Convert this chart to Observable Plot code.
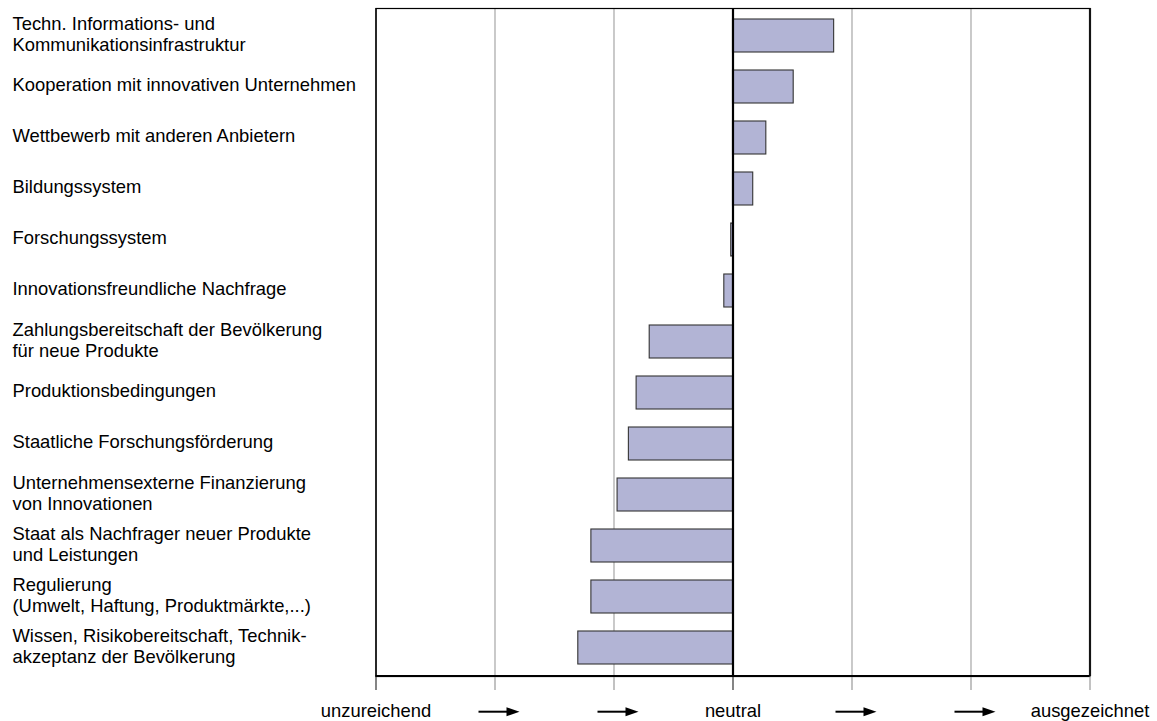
<!DOCTYPE html>
<html>
<head>
<meta charset="utf-8">
<script src="https://cdn.jsdelivr.net/npm/d3@7"></script>
<script src="https://cdn.jsdelivr.net/npm/@observablehq/plot@0.6"></script>
<style>
  html, body { margin: 0; padding: 0; background: #fff; }
  #chart svg { display: block; }
</style>
</head>
<body>
<div id="chart"></div>
<script>
const categories = [
  "Techn. Informations- und\nKommunikationsinfrastruktur",
  "Kooperation mit innovativen Unternehmen",
  "Wettbewerb mit anderen Anbietern",
  "Bildungssystem",
  "Forschungssystem",
  "Innovationsfreundliche Nachfrage",
  "Zahlungsbereitschaft der Bevölkerung\nfür neue Produkte",
  "Produktionsbedingungen",
  "Staatliche Forschungsförderung",
  "Unternehmensexterne Finanzierung\nvon Innovationen",
  "Staat als Nachfrager neuer Produkte\nund Leistungen",
  "Regulierung\n(Umwelt, Haftung, Produktmärkte,...)",
  "Wissen, Risikobereitschaft, Technik-\nakzeptanz der Bevölkerung"
];
const values = [0.85, 0.51, 0.28, 0.17, -0.015, -0.073, -0.70, -0.81, -0.875, -0.97, -1.19, -1.19, -1.30];
const tickValues = [-3, -2, -1, 0, 1, 2, 3];
const tickLabels = ["unzureichend", "→", "→", "neutral", "→", "→", "ausgezeichnet"];

const data = categories.map((c, i) => ({category: c, value: values[i]}));
const labelTicks = tickValues.filter((v, i) => tickLabels[i] !== "→");
const arrowTicks = tickValues.filter((v, i) => tickLabels[i] === "→");
const labelOf = v => tickLabels[tickValues.indexOf(v)];

const W = 1157, H = 721;
const mL = 375.5, mR = 67.5, mT = 8, mB = 45;
const FS = 18.4;

const arrows = (index, scales, values, dimensions) => {
  const g = d3.create("svg:g");
  const base = dimensions.height - dimensions.marginBottom;
  // bottom axis line
  g.append("line")
    .attr("x1", dimensions.marginLeft).attr("x2", dimensions.width - dimensions.marginRight)
    .attr("y1", base).attr("y2", base)
    .attr("stroke", "#000").attr("stroke-width", 2);
  const y = base + 35.7;
  for (const v of arrowTicks) {
    const cx = scales.x(v) + 4;
    g.append("line")
      .attr("x1", cx - 20).attr("x2", cx + 10)
      .attr("y1", y).attr("y2", y)
      .attr("stroke", "#000").attr("stroke-width", 2);
    g.append("path")
      .attr("d", `M${cx + 8},${y - 4.5}L${cx + 21},${y}L${cx + 8},${y + 4.5}Z`)
      .attr("fill", "#000");
  }
  return g.node();
};

const chart = Plot.plot({
  width: W,
  height: H,
  marginLeft: mL,
  marginRight: mR,
  marginTop: mT,
  marginBottom: mB,
  style: {fontFamily: "'Liberation Sans', Arial, sans-serif", fontSize: FS + "px", color: "#000", background: "#fff"},
  x: {domain: [-3, 3], axis: null, label: null},
  y: {domain: categories, paddingInner: 0.35, paddingOuter: 0.175, axis: null, label: null},
  marks: [
    Plot.ruleX([-2, -1, 1, 2], {stroke: "#a6a6a6", strokeWidth: 1.2}),
    Plot.ruleX([3], {stroke: "#333", strokeWidth: 2.2}),
    Plot.ruleX([-3], {stroke: "#000", strokeWidth: 1.2}),
    Plot.frame({stroke: "#000", strokeWidth: 1.2, fill: "none"}),
    Plot.barX(data, {x: "value", y: "category", fill: "#b2b4d5", stroke: "#333", strokeWidth: 1.1}),
    Plot.ruleX([0], {stroke: "#000", strokeWidth: 2.2}),
    Plot.text(categories, {y: d => d, frameAnchor: "left", textAnchor: "start", dx: 12 - mL, dy: -2.5, lineHeight: 1.16, fill: "#000", fontSize: FS}),
    Plot.axisX({ticks: [-2, -1, 1, 2, 3], tickSize: 14, stroke: "#999", tickFormat: () => "", strokeWidth: 1.2, label: null}),
    Plot.axisX({ticks: [-3, 0], tickSize: 14, stroke: "#333", tickFormat: () => "", strokeWidth: 1.2, label: null}),
    Plot.axisX({ticks: labelTicks, tickSize: 0, tickPadding: 27, tickFormat: labelOf, fontSize: FS, fill: "#000", label: null}),
    arrows
  ]
});
document.getElementById("chart").append(chart);
</script>
</body>
</html>
